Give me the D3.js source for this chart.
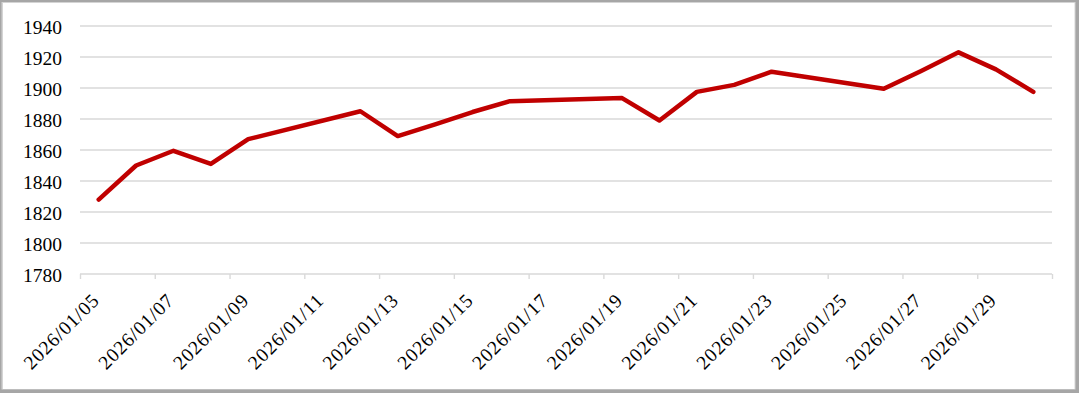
<!DOCTYPE html>
<html>
<head>
<meta charset="utf-8">
<script src="https://cdn.jsdelivr.net/npm/d3@7"></script>
<style>
  html, body { margin: 0; padding: 0; background: #fff; }
  svg { display: block; }
  text { font-family: "Liberation Serif", "Times New Roman", serif; fill: #000; }
</style>
</head>
<body>
<div id="chart"></div>
<script>
/* CONSTANTS AND GLOBALS */
const width = 1079,
  height = 393,
  margin = { top: 26, bottom: 119, left: 80, right: 27 };

/* DATA */
const dates = ["2026/01/05", "2026/01/06", "2026/01/07", "2026/01/08", "2026/01/09",
  "2026/01/12", "2026/01/13", "2026/01/14", "2026/01/15", "2026/01/16",
  "2026/01/19", "2026/01/20", "2026/01/21", "2026/01/22", "2026/01/23",
  "2026/01/26", "2026/01/27", "2026/01/28", "2026/01/29", "2026/01/30"];
const values = [1828, 1850, 1859.5, 1851, 1867,
  1885, 1869, 1876.5, 1884.5, 1891.5,
  1893.5, 1879, 1897.5, 1902, 1910.5,
  1899.5, 1911, 1923, 1912, 1897.5];
const xTickLabels = ["2026/01/05", "2026/01/07", "2026/01/09", "2026/01/11", "2026/01/13",
  "2026/01/15", "2026/01/17", "2026/01/19", "2026/01/21", "2026/01/23",
  "2026/01/25", "2026/01/27", "2026/01/29"];
const xEnd = "2026/01/31";
const yTicks = [1780, 1800, 1820, 1840, 1860, 1880, 1900, 1920, 1940];

const parse = d3.timeParse("%Y/%m/%d");
const data = dates.map((d, i) => ({ date: parse(d), value: values[i] }));

const svg = d3.select("#chart")
  .append("svg")
  .attr("width", width)
  .attr("height", height);

// frame with a little shadow, like the spreadsheet chart area
svg.append("rect").attr("width", width).attr("height", height).attr("fill", "#a6a6a6");
svg.append("rect").attr("x", 1.5).attr("y", 2).attr("width", width - 5).attr("height", height - 5.5).attr("fill", "#d4d4d4");
svg.append("rect").attr("x", 3).attr("y", 3).attr("width", width - 7.5).attr("height", height - 7).attr("fill", "#fff");

//SCALES
const xScale = d3.scaleTime()
  .domain([parse(xTickLabels[0]), parse(xEnd)])
  .range([margin.left, width - margin.right]);

const yScale = d3.scaleLinear()
  .domain([1780, 1940])
  .range([height - margin.bottom, margin.top]);

// gridlines
svg.append("g")
  .selectAll("line")
  .data(yTicks)
  .join("line")
  .attr("x1", margin.left)
  .attr("x2", width - margin.right)
  .attr("y1", d => yScale(d))
  .attr("y2", d => yScale(d))
  .attr("stroke", "#d9d9d9")
  .attr("stroke-width", 1.4);

// y labels
svg.append("g")
  .selectAll("text")
  .data(yTicks)
  .join("text")
  .attr("x", 62)
  .attr("y", d => yScale(d) + 8)
  .attr("text-anchor", "end")
  .style("font-size", "19.5px")
  .text(d => d);

// x axis: tick marks below the baseline, rotated labels
const xTickDates = xTickLabels.map(parse).concat([parse(xEnd)]);
const xAxis = d3.axisBottom(xScale)
  .tickValues(xTickDates)
  .tickSize(5)
  .tickFormat(() => "");

const gx = svg.append("g")
  .attr("class", "xAxis")
  .attr("transform", `translate(0, ${yScale(1780)})`)
  .call(xAxis);
gx.select(".domain").remove();
gx.selectAll(".tick line").attr("stroke", "#d9d9d9").attr("stroke-width", 1.4);

svg.append("g")
  .selectAll("text")
  .data(xTickLabels)
  .join("text")
  .attr("transform", d => `translate(${xScale(parse(d)) + 20}, ${yScale(1780) + 28}) rotate(-45)`)
  .attr("text-anchor", "end")
  .attr("textLength", 97)
  .attr("lengthAdjust", "spacing")
  .style("font-size", "19.5px")
  .text(d => d);

// the series, points sit in the middle of each day
const line = d3.line()
  .x(d => xScale(d3.timeHour.offset(d.date, 12)))
  .y(d => yScale(d.value));

svg.append("path")
  .datum(data)
  .attr("d", line)
  .attr("fill", "none")
  .attr("stroke", "#c00000")
  .attr("stroke-width", 4.5)
  .attr("stroke-linejoin", "round")
  .attr("stroke-linecap", "round");
</script>
</body>
</html>
